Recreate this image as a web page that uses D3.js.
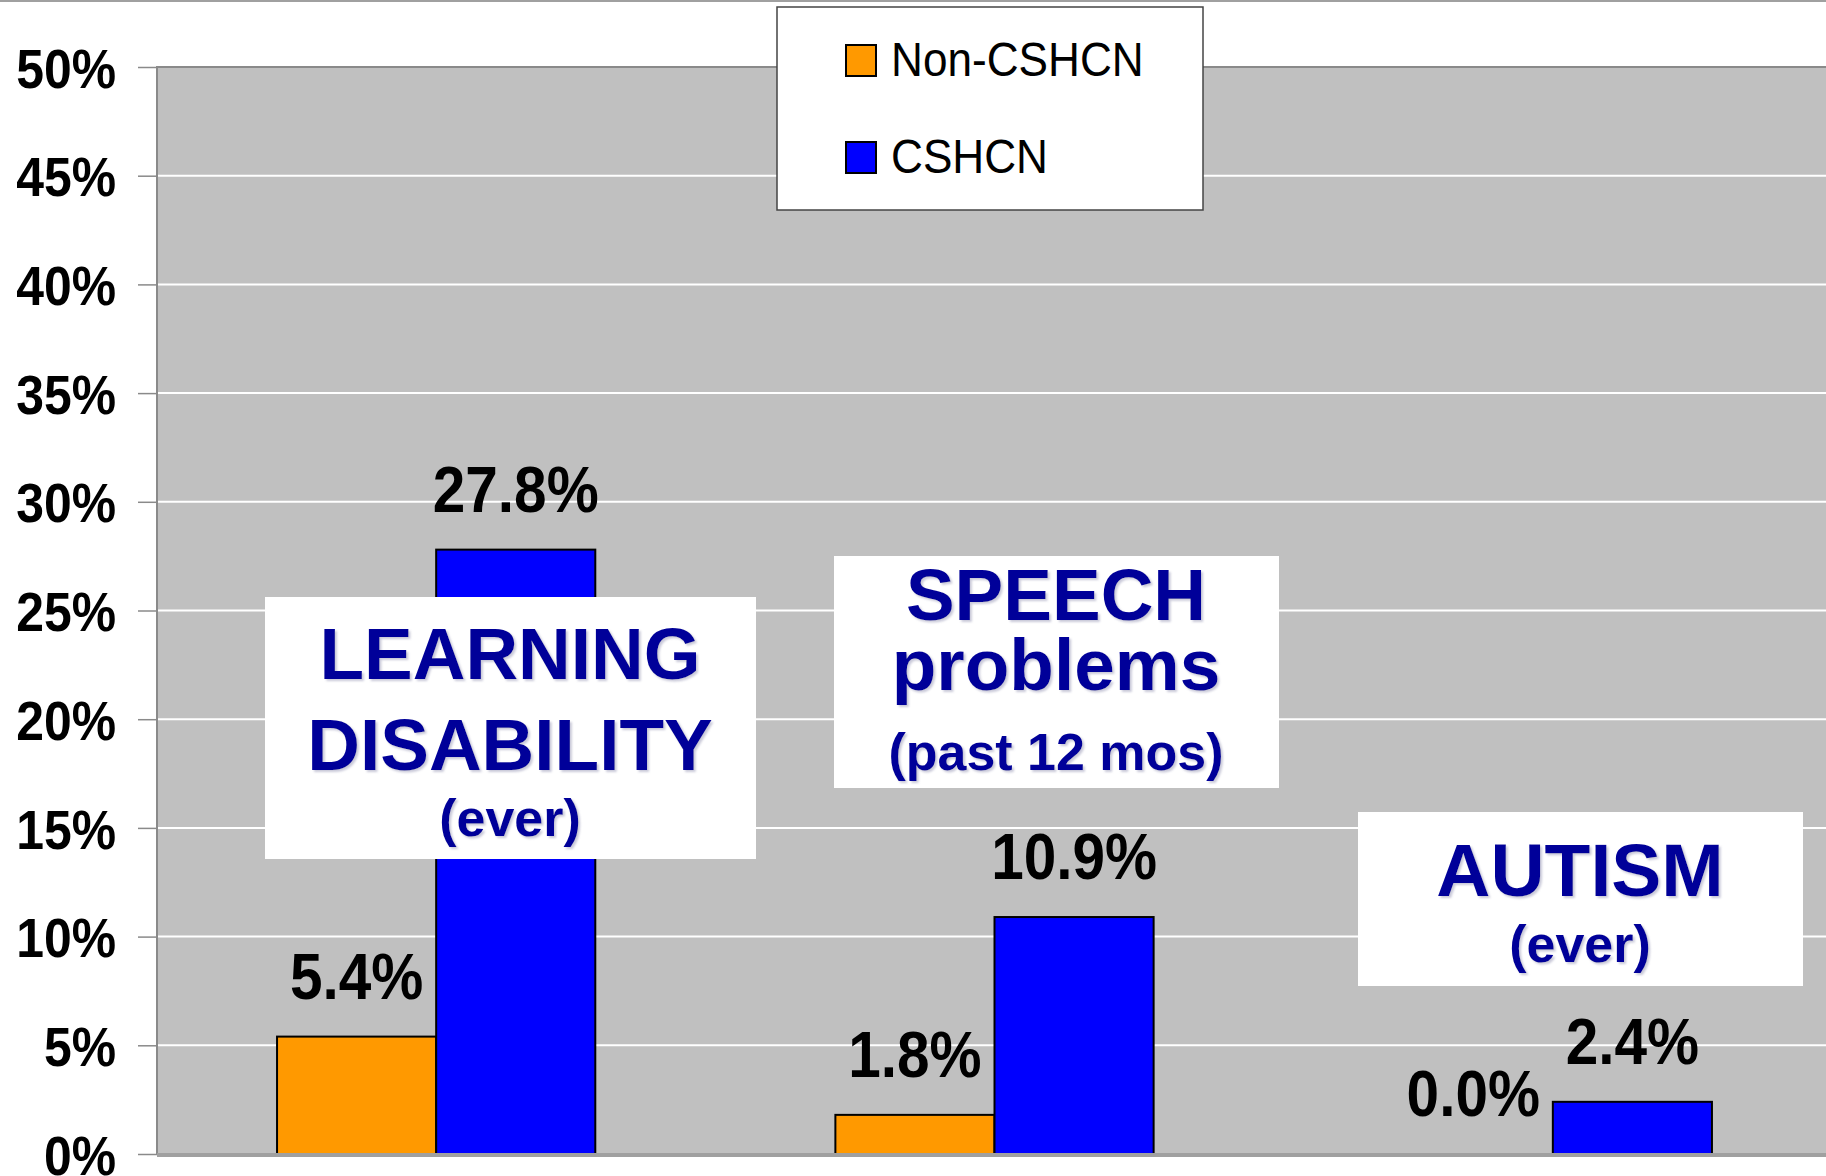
<!DOCTYPE html>
<html lang="en">
<head>
<meta charset="UTF-8">
<title>Learning, speech and autism: CSHCN vs Non-CSHCN</title>
<script src="https://d3js.org/d3.v7.min.js"></script>
<style>
  html, body { margin: 0; padding: 0; background: #fff; }
  svg { display: block; }
</style>
</head>
<body>
<div id="chart"></div>
<script>
// data
const categories = ['Learning disability', 'Speech problems', 'Autism'];
const series = ['Non-CSHCN', 'CSHCN'];
const nonCshcn = [5.4, 1.8, 0.0];
const cshcn = [27.8, 10.9, 2.4];
const yTicks = [0, 5, 10, 15, 20, 25, 30, 35, 40, 45, 50];

const colors = {'Non-CSHCN': '#FF9900', 'CSHCN': '#0000FF'};

const width = 1826, height = 1176;
const margin = {left: 157, top: 67, right: 0, bottom: 22};

const svg = d3.select('#chart').append('svg')
    .attr('width', width)
    .attr('height', height);

// soft shadow for the blue annotation text
const defs = svg.append('defs');
defs.append('filter').attr('id', 'shadow')
    .attr('x', '-10%').attr('y', '-10%').attr('width', '120%').attr('height', '130%')
  .append('feDropShadow')
    .attr('dx', 2).attr('dy', 2).attr('stdDeviation', 1.2)
    .attr('flood-color', '#8888aa').attr('flood-opacity', 0.45);

// thin rule along the top of the slide
svg.append('line')
    .attr('x1', 0).attr('x2', width).attr('y1', 1).attr('y2', 1)
    .attr('stroke', '#a0a0a0').attr('stroke-width', 2);

// the plot runs slightly past the right edge of the slide
const x0 = d3.scaleBand()
    .domain(categories)
    .range([margin.left, width + 6])
    .paddingInner(0.43)
    .paddingOuter(0.215);

const x1 = d3.scaleBand()
    .domain(series)
    .range([0, x0.bandwidth()]);

const y = d3.scaleLinear()
    .domain([0, 50])
    .range([height - margin.bottom, margin.top]);

// plot area
svg.append('rect')
    .attr('x', margin.left).attr('y', y(50))
    .attr('width', width - margin.left).attr('height', y(0) - y(50))
    .attr('fill', '#c0c0c0');

// gridlines
svg.append('g')
    .selectAll('line')
    .data(yTicks.filter(d => d > 0 && d < 50))
    .join('line')
    .attr('x1', margin.left).attr('x2', width)
    .attr('y1', d => y(d)).attr('y2', d => y(d))
    .attr('stroke', '#ffffff').attr('stroke-width', 2);

// plot border (top + left)
svg.append('path')
    .attr('d', `M${margin.left},${y(0)}V${y(50)}H${width}`)
    .attr('fill', 'none').attr('stroke', '#8a8a8a').attr('stroke-width', 2);

// y axis ticks and labels
const yAxis = d3.axisLeft(y)
    .tickValues(yTicks)
    .tickSize(19)
    .tickPadding(22)
    .tickFormat(d => d + '%');

const gy = svg.append('g')
    .attr('transform', `translate(${margin.left},0)`)
    .call(yAxis);
gy.select('.domain').remove();
gy.selectAll('.tick line').attr('stroke', '#8a8a8a').attr('stroke-width', 1.5);
gy.selectAll('.tick text')
    .attr('fill', '#000')
    .attr('font-family', 'Liberation Sans, Arial, sans-serif')
    .attr('font-weight', 'bold')
    .attr('font-size', 56)
    .attr('dy', '0.36em')
    .attr('transform', function() {
      const tx = +d3.select(this).attr('x');
      return `translate(${tx * 0.11},0) scale(0.89,1)`;
    });

// bars
const rows = categories.map((c, i) => ({
  category: c,
  values: [
    {key: 'Non-CSHCN', value: nonCshcn[i]},
    {key: 'CSHCN', value: cshcn[i]}
  ]
}));

const groups = svg.append('g')
    .selectAll('g')
    .data(rows)
    .join('g')
    .attr('transform', d => `translate(${x0(d.category)},0)`);

groups.selectAll('rect')
    .data(d => d.values.filter(v => v.value > 0))
    .join('rect')
    .attr('x', d => x1(d.key))
    .attr('y', d => y(d.value))
    .attr('width', x1.bandwidth())
    .attr('height', d => y(0) - y(d.value))
    .attr('fill', d => colors[d.key])
    .attr('stroke', '#000')
    .attr('stroke-width', 2);

// value labels
groups.selectAll('text.val')
    .data(d => d.values)
    .join('text')
    .attr('class', 'val')
    .attr('transform', d =>
      `translate(${x1(d.key) + x1.bandwidth() / 2},${y(d.value) - 38}) scale(0.9,1)`)
    .attr('text-anchor', 'middle')
    .attr('font-family', 'Liberation Sans, Arial, sans-serif')
    .attr('font-weight', 'bold')
    .attr('font-size', 65)
    .attr('fill', '#000')
    .text(d => d.value.toFixed(1) + '%');

// x axis line
svg.append('line')
    .attr('x1', margin.left).attr('x2', width)
    .attr('y1', y(0) + 1).attr('y2', y(0) + 1)
    .attr('stroke', '#a0a0a0').attr('stroke-width', 4);

// annotation boxes
const notes = [
  {box: [265, 597, 491, 262], cx: 510,
   lines: [['LEARNING', 73, 679], ['DISABILITY', 73, 770], ['(ever)', 52, 836]]},
  {box: [834, 556, 445, 232], cx: 1056,
   lines: [['SPEECH', 73, 620], ['problems', 73, 690], ['(past 12 mos)', 52, 770]]},
  {box: [1358, 812, 445, 174], cx: 1580,
   lines: [['AUTISM', 75, 896], ['(ever)', 52, 962]]}
];

notes.forEach(n => {
  const g = svg.append('g');
  g.append('rect')
      .attr('x', n.box[0]).attr('y', n.box[1])
      .attr('width', n.box[2]).attr('height', n.box[3])
      .attr('fill', '#fff');
  g.selectAll('text')
      .data(n.lines)
      .join('text')
      .attr('x', n.cx)
      .attr('y', d => d[2])
      .attr('text-anchor', 'middle')
      .attr('font-family', 'Liberation Sans, Arial, sans-serif')
      .attr('font-weight', 'bold')
      .attr('font-size', d => d[1])
      .attr('fill', '#000099')
      .attr('filter', 'url(#shadow)')
      .text(d => d[0]);
});

// legend
const legend = svg.append('g').attr('transform', 'translate(777,7)');
legend.append('rect')
    .attr('width', 426).attr('height', 203)
    .attr('fill', '#fff')
    .attr('stroke', '#444').attr('stroke-width', 1.5);

const items = legend.selectAll('g.item')
    .data(series)
    .join('g')
    .attr('class', 'item')
    .attr('transform', (d, i) => `translate(69,${38 + i * 97})`);

items.append('rect')
    .attr('width', 30).attr('height', 31)
    .attr('fill', d => colors[d])
    .attr('stroke', '#000').attr('stroke-width', 2);

items.append('text')
    .attr('transform', 'translate(45,31) scale(0.96,1.05)')
    .attr('font-family', 'Liberation Sans, Arial, sans-serif')
    .attr('font-size', 46)
    .attr('fill', '#000')
    .text(d => d);
</script>
</body>
</html>
